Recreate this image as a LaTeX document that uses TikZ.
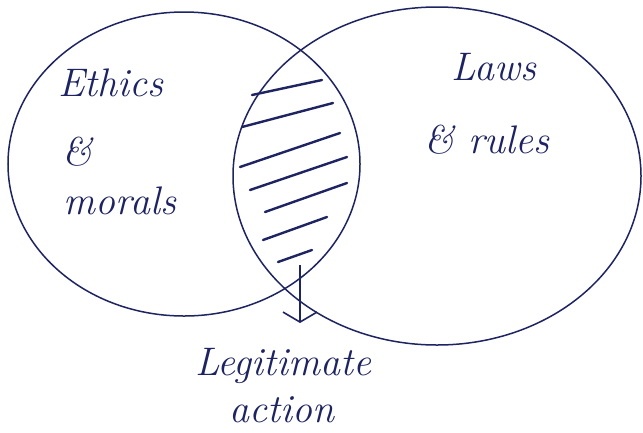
\documentclass[tikz,border=0pt]{standalone}
\usepackage{tikz}
\usetikzlibrary{positioning, arrows.meta}
\definecolor{inkBlue}{RGB}{30,36,98}
\colorlet{mInk}{inkBlue}

\begin{document}
\begin{tikzpicture}[
  x=1bp, y=-1bp,
  ring/.style={draw=mInk, line width=1.5bp},
  hatch/.style={draw=mInk, line width=2.4bp, line cap=round},
  lbl/.style={text=mInk, font=\fontsize{40}{44}\selectfont\itshape, inner sep=0pt},
]
  \useasboundingbox[fill=white] (0,0) rectangle (643,432);
  \draw[ring] (184,164) ellipse [x radius=176bp, y radius=152bp];
  \draw[ring] (437,176) ellipse [x radius=204bp, y radius=169bp];
  \foreach \a/\b/\c/\d in {252/95/322/80, 242/127/333/103, 240/167/340/133,
      250/190/347/157, 265/212/347/183, 263/240/327/217, 278/262/312/250}
    \draw[hatch] (\a,\b) -- (\c,\d);
  \node[lbl] (ethics) at (111,83) {Ethics};
  \node[lbl] (amp) at (77,152) {\&};
  \node[lbl] (morals) at (120,201) {morals};
  \node[lbl] (laws) at (494,67) {Laws};
  \node[lbl] (rules) at (487,140) {\& rules};
  \node[lbl] (legit) at (283,366) {Legitimate};
  \node[lbl] (action) at (282,410) {action};
  \coordinate (src) at (300,265);
  \coordinate (tip) at (300,323);
  \draw[draw=mInk, line width=1.6bp, -{Straight Barb[length=10bp, width=34bp]}] (src) -- (tip);
\end{tikzpicture}
\end{document}
